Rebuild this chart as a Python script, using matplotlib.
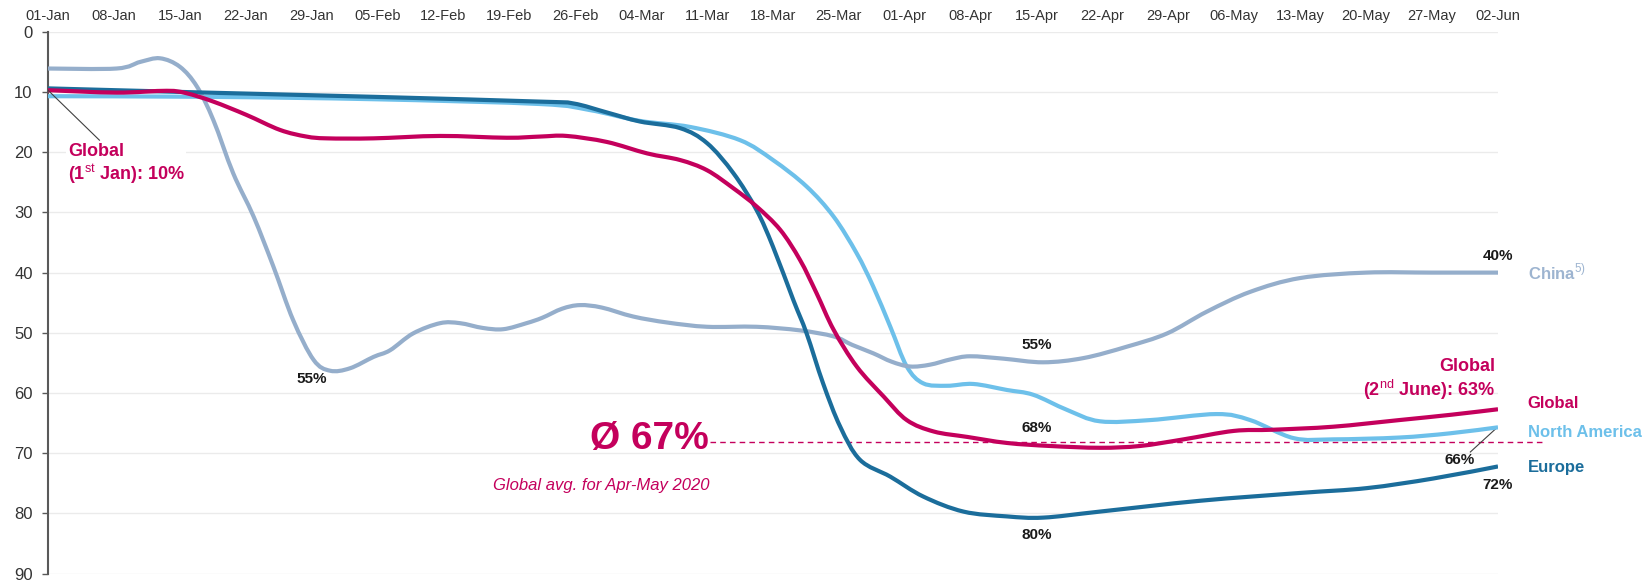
import matplotlib
matplotlib.use('Agg')
import matplotlib.pyplot as plt
from matplotlib.path import Path
from matplotlib.patches import PathPatch

# weekly axis: 0 = 01-Jan ... 22 = 02-Jun
week_labels = ['01-Jan', '08-Jan', '15-Jan', '22-Jan', '29-Jan', '05-Feb', '12-Feb', '19-Feb',
               '26-Feb', '04-Mar', '11-Mar', '18-Mar', '25-Mar', '01-Apr', '08-Apr', '15-Apr',
               '22-Apr', '29-Apr', '06-May', '13-May', '20-May', '27-May', '02-Jun']

china_x = [0, 1.04, 1.4, 1.7, 2.0, 2.26, 2.51, 2.81, 3.12, 3.42, 3.72, 4.03, 4.28, 4.58, 4.94,
           5.19, 5.54, 5.95, 6.25, 6.6, 6.91, 7.26, 7.5, 7.8, 8.07, 8.4, 8.88, 9.4, 10.0, 10.75,
           11.41, 11.92, 12.2, 12.52, 12.8, 13.08, 13.38, 13.7, 13.99, 14.5, 15.1, 15.71, 16.37,
           16.98, 17.58, 18.24, 19.0, 20.0, 21.0, 22.0]
china_y = [6.1, 6.1, 5.0, 4.4, 5.8, 9.1, 14.7, 23.5, 30.7, 39.0, 47.9, 54.5, 56.3, 55.9, 54.0,
           52.9, 50.1, 48.4, 48.4, 49.2, 49.4, 48.4, 47.5, 46.0, 45.4, 45.8, 47.3, 48.3, 49.0, 49.0,
           49.6, 50.6, 52.0, 53.4, 54.8, 55.6, 55.3, 54.4, 53.9, 54.3, 54.9, 54.2, 52.3,
           50.1, 46.5, 43.2, 40.9, 40.0, 40.0, 40.0]

global_x = [0, 1.04, 1.8, 2.1, 2.51, 3.01, 3.52, 3.92, 4.23, 4.94, 5.95, 6.96, 7.47, 7.87, 8.48,
            9.09, 9.59, 10.0, 10.4, 10.75, 11.11, 11.41, 11.66, 11.92, 12.27, 12.68, 13.03, 13.44,
            13.95, 14.55, 15.2, 15.96, 16.57, 17.23, 17.99, 18.59, 19.5, 20.5, 21.3, 22.0]
global_y = [9.7, 10.1, 9.8, 10.2, 11.6, 13.8, 16.3, 17.4, 17.7, 17.7, 17.3, 17.6, 17.4, 17.3, 18.3,
            20.2, 21.3, 23.0, 26.0, 29.0, 32.9, 37.9, 43.4, 49.5, 55.6, 60.6, 64.5, 66.4,
            67.3, 68.3, 68.8, 69.1, 68.8, 67.7, 66.3, 66.1, 65.6, 64.5, 63.6, 62.7]

europe_x = [0, 2.4, 4.94, 7.47, 7.97, 8.48, 8.98, 9.59, 10.0, 10.4, 10.75, 11.0, 11.31, 11.51,
            11.76, 12.02, 12.32, 12.78, 13.28, 13.89, 14.55, 15.1, 15.96, 17.48, 19.0, 20.01,
            21.02, 22.0]
europe_y = [9.4, 10.1, 10.8, 11.6, 11.9, 13.4, 14.9, 16.0, 18.5, 23.5, 29.6, 35.7, 44.6, 50.1,
            58.4, 65.6, 71.1, 73.9, 77.2, 79.7, 80.5, 80.7, 79.7, 77.9, 76.6, 75.8,
            74.2, 72.2]

na_x = [0, 2.4, 4.94, 7.47, 8.22, 8.98, 9.74, 10.5, 11.0, 11.51, 11.92, 12.27, 12.52, 12.78,
        13.03, 13.28, 13.64, 14.04, 14.55, 14.95, 15.46, 15.96, 16.72, 17.73, 18.24, 18.9, 19.5,
        20.5, 21.27, 22.0]
na_y = [10.7, 10.8, 11.2, 12.0, 13.0, 14.8, 15.8, 18.0, 21.3, 25.7, 30.7, 36.8, 42.3, 49.0,
        55.6, 58.4, 58.8, 58.5, 59.5, 60.3, 62.8, 64.7, 64.5, 63.5, 64.5, 67.5, 67.7,
        67.4, 66.7, 65.7]

avg_global = 68.2  # dashed reference line

MAGENTA = '#C4005C'
EUROPE = '#1B6D9B'
NAM = '#6DC0EA'
CHINA = '#95AECB'

plt.rcParams['font.family'] = ['Liberation Sans', 'DejaVu Sans']
plt.rcParams['mathtext.fontset'] = 'custom'
plt.rcParams['mathtext.rm'] = 'Liberation Sans'
plt.rcParams['mathtext.bf'] = 'Liberation Sans:bold'


def smooth_line(ax, xs, ys, color, z):
    # excel-style smoothed line: cubic bezier through the points (catmull-rom handles)
    pts = list(zip(xs, ys))
    verts = [pts[0]]
    codes = [Path.MOVETO]
    n = len(pts)
    for i in range(n - 1):
        p0 = pts[max(i - 1, 0)]
        p1 = pts[i]
        p2 = pts[i + 1]
        p3 = pts[min(i + 2, n - 1)]
        c1 = (p1[0] + (p2[0] - p0[0]) / 6, p1[1] + (p2[1] - p0[1]) / 6)
        c2 = (p2[0] - (p3[0] - p1[0]) / 6, p2[1] - (p3[1] - p1[1]) / 6)
        verts += [c1, c2, p2]
        codes += [Path.CURVE4] * 3
    ax.add_patch(PathPatch(Path(verts, codes), facecolor='none', edgecolor=color, lw=3,
                           capstyle='butt', zorder=z))


fig = plt.figure(figsize=(16.51, 5.85), dpi=100)
ax = fig.add_axes([0.02907, 0.01949, 0.87826, 0.92615])

smooth_line(ax, na_x, na_y, NAM, 3)
smooth_line(ax, china_x, china_y, CHINA, 3)
smooth_line(ax, europe_x, europe_y, EUROPE, 4)
smooth_line(ax, global_x, global_y, MAGENTA, 5)

ax.set_xlim(0, 22)
ax.set_ylim(90, 0)
ax.set_yticks(range(0, 91, 10))
ax.set_yticklabels([str(v) for v in range(0, 91, 10)], fontsize=12, color='#333333')
ax.tick_params(axis='y', length=4, width=1, pad=7, color='#595959')
ax.xaxis.tick_top()
ax.set_xticks(range(len(week_labels)))
ax.set_xticklabels(week_labels, fontsize=10.5, color='#333333')
ax.tick_params(axis='x', length=0, pad=6)
ax.grid(axis='y', color='#EBEBEB', lw=1)
ax.set_axisbelow(True)
for s in ['top', 'right', 'bottom']:
    ax.spines[s].set_visible(False)
ax.spines['left'].set_color('#595959')
ax.spines['left'].set_linewidth(1.5)

# average line
ax.plot([10.04, 22.69], [avg_global, avg_global], color=MAGENTA, lw=1, ls=(0, (4, 3)),
        clip_on=False, zorder=2)
ax.text(10.02, 67.6, 'Ø 67%', color=MAGENTA, fontsize=28, fontweight='bold', ha='right',
        va='center')
ax.text(10.04, 75.3, 'Global avg. for Apr-May 2020', color=MAGENTA, fontsize=12,
        style='italic', ha='right', va='center')

# global start / end callouts
ax.plot([0, 0.78], [9.7, 18.0], color='#404040', lw=0.8, zorder=6)
ax.text(0.30, 22.0, 'Global\n(1$^{\\mathrm{st}}$ Jan): 10%', color=MAGENTA, fontsize=13,
        fontweight='bold', ha='left', va='center', linespacing=1.15, zorder=6,
        bbox=dict(facecolor='white', edgecolor='none', pad=1))
ax.text(21.96, 57.8, 'Global\n(2$^{\\mathrm{nd}}$ June): 63%', color=MAGENTA, fontsize=13,
        fontweight='bold', ha='right', va='center', linespacing=1.15, multialignment='right')

# value labels
lab = dict(fontsize=11, fontweight='bold', color='#1A1A1A', ha='center', va='center')
ax.text(4.0, 57.7, '55%', **lab)
ax.text(15.0, 52.0, '55%', **lab)
ax.text(15.0, 65.8, '68%', **lab)
ax.text(15.0, 83.6, '80%', **lab)
ax.text(22.0, 37.2, '40%', **lab)
ax.text(21.42, 71.1, '66%', **lab)
ax.text(22.0, 75.3, '72%', **lab)
ax.plot([21.97, 21.58], [65.9, 69.8], color='#404040', lw=0.8, clip_on=False)

# series names on the right
rl = dict(fontsize=12, fontweight='bold', ha='left', va='center')
ax.text(22.45, 40.0, 'China$^{\\mathrm{5)}}$', color='#9DB4D0', **rl)
ax.text(22.45, 61.8, 'Global', color=MAGENTA, **rl)
ax.text(22.45, 66.6, 'North America', color=NAM, **rl)
ax.text(22.45, 72.3, 'Europe', color=EUROPE, **rl)

fig.savefig('out.png', dpi=100)
